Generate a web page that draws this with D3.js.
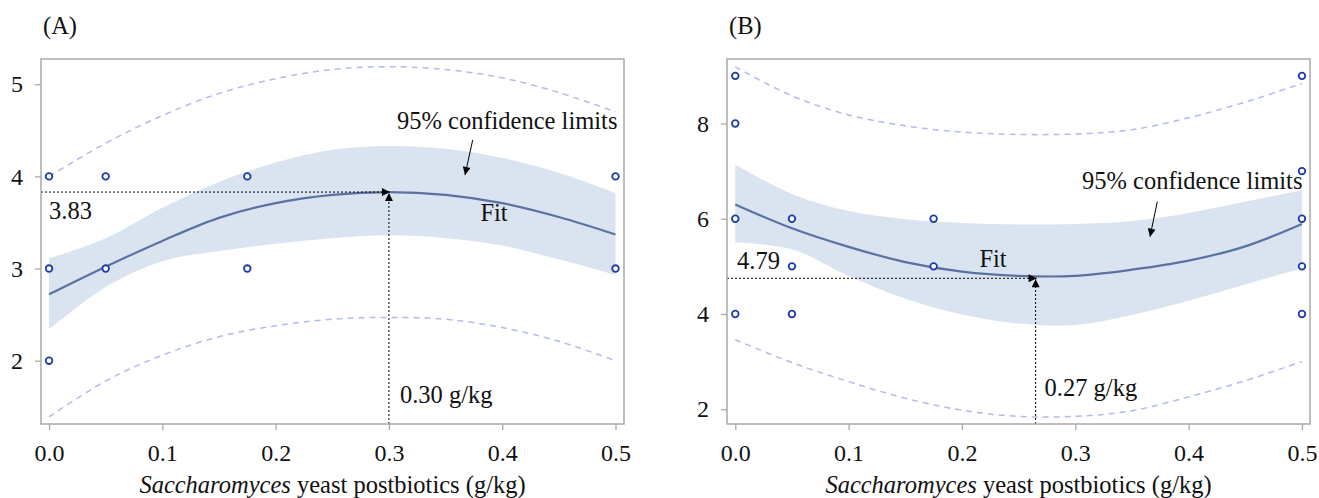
<!DOCTYPE html>
<html>
<head>
<meta charset="utf-8">
<script src="https://cdn.jsdelivr.net/npm/d3@7"></script>
<style>
  html, body { margin: 0; padding: 0; background: #fff; }
  svg text { font-family: 'Liberation Serif', 'DejaVu Serif', serif; }
</style>
</head>
<body>
<svg id="chart" width="1319" height="498"></svg>
<script>
// ---------- data ----------
const gridX = [0, 0.05, 0.1, 0.15, 0.2, 0.25, 0.3, 0.35, 0.4, 0.45, 0.5];

// Panel A
const ptsAx = [0, 0, 0, 0.05, 0.05, 0.175, 0.175, 0.5, 0.5];
const ptsAy = [4, 3, 2, 4, 3, 4, 3, 4, 3];
const fitA   = [2.72, 3.02, 3.30, 3.55, 3.71, 3.80, 3.83, 3.80, 3.71, 3.56, 3.37];
const clUpA  = [3.11, 3.33, 3.66, 3.94, 4.15, 4.29, 4.33, 4.30, 4.20, 4.04, 3.82];
const clLoA  = [2.34, 2.80, 3.08, 3.19, 3.27, 3.33, 3.36, 3.33, 3.25, 3.10, 2.93];
const plUpA  = [4.00, 4.36, 4.66, 4.90, 5.06, 5.16, 5.19, 5.16, 5.07, 4.91, 4.70];
const plLoA  = [1.39, 1.78, 2.06, 2.26, 2.38, 2.45, 2.47, 2.45, 2.36, 2.21, 2.00];
const yTicksA = [2, 3, 4, 5];

// Panel B
const ptsBx = [0, 0, 0, 0, 0.05, 0.05, 0.05, 0.175, 0.175, 0.5, 0.5, 0.5, 0.5, 0.5];
const ptsBy = [9, 8, 6, 4, 6, 5, 4, 6, 5, 9, 7, 6, 5, 4];
const fitB   = [6.30, 5.80, 5.41, 5.09, 4.89, 4.80, 4.80, 4.93, 5.12, 5.42, 5.89];
const clUpB  = [7.14, 6.52, 6.16, 5.99, 5.91, 5.88, 5.89, 5.95, 6.12, 6.36, 6.60];
const clLoB  = [5.50, 5.36, 4.80, 4.32, 3.99, 3.80, 3.77, 3.98, 4.28, 4.62, 4.96];
const plUpB  = [9.19, 8.58, 8.18, 7.95, 7.82, 7.77, 7.78, 7.87, 8.12, 8.45, 8.84];
const plLoB  = [3.46, 2.98, 2.58, 2.23, 1.98, 1.85, 1.85, 1.97, 2.26, 2.60, 3.00];
const yTicksB = [2, 4, 6, 8];

const xTicks = [0, 0.1, 0.2, 0.3, 0.4, 0.5];
const xTickLabels = ["0.0", "0.1", "0.2", "0.3", "0.4", "0.5"];

const panelLabels = ["(A)", "(B)"];
const optX = [0.30, 0.265];
const optY = [3.83, 4.75];
const optYLabels = ["3.83", "4.79"];
const optXLabels = ["0.30 g/kg", "0.27 g/kg"];
const ciLabel = "95% confidence limits";
const fitLabel = "Fit";

// ---------- drawing ----------
const svg = d3.select("#chart");
const SERIF = "'Liberation Serif', 'DejaVu Serif', serif";
const C = {
  frame: "#a9a9a9", band: "#dae4f1", fit: "#5a72a0", pl: "#b3bbe8",
  pt: "#1f3ca6", text: "#111"
};
const curve = d3.curveCatmullRom.alpha(0.5);

const defs = svg.append("defs");
defs.append("marker").attr("id", "ah")
  .attr("viewBox", "0 0 10 10").attr("refX", 10).attr("refY", 5)
  .attr("markerWidth", 10).attr("markerHeight", 8).attr("markerUnits", "userSpaceOnUse")
  .attr("orient", "auto")
  .append("path").attr("d", "M0,0 L10,5 L0,10 z").attr("fill", "#000");

const panels = [
  { left: 41, right: 624, top: 59, bottom: 424, xDom: [-0.0071, 0.5075], yDom: [1.313, 5.274],
    ptsX: ptsAx, ptsY: ptsAy, fit: fitA, up: clUpA, lo: clLoA, plUp: plUpA, plLo: plLoA, yTicks: yTicksA },
  { left: 727, right: 1310, top: 59, bottom: 424, xDom: [-0.0073, 0.5071], yDom: [1.69, 9.354],
    ptsX: ptsBx, ptsY: ptsBy, fit: fitB, up: clUpB, lo: clLoB, plUp: plUpB, plLo: plLoB, yTicks: yTicksB }
];

// per-panel annotation layout (pixel offsets only)
const annot = [
  { ci: [397, 129], ciArrow: [[472.7, 140], [465, 175]], fit: [494, 221], yLab: [49, 27], xLab: [11, 403] },
  { ci: [1082, 189], ciArrow: [[1157.3, 201.7], [1150, 236.7]], fit: [993, 267], yLab: [737, -9], xLab: [9, 396] }
];

function txt(sel) {
  return sel.attr("fill", C.text).attr("font-family", SERIF).style("font-family", SERIF).style("font-size", "24.5px");
}

panels.forEach((p, i) => {
  const x = d3.scaleLinear().domain(p.xDom).range([p.left, p.right]);
  const y = d3.scaleLinear().domain(p.yDom).range([p.bottom, p.top]);
  const g = svg.append("g");

  const clipId = "clip" + i;
  defs.append("clipPath").attr("id", clipId).append("rect")
    .attr("x", p.left).attr("y", p.top).attr("width", p.right - p.left).attr("height", p.bottom - p.top);
  const inner = g.append("g").attr("clip-path", `url(#${clipId})`);

  const rows = gridX.map((gx, k) => ({ x: gx, fit: p.fit[k], up: p.up[k], lo: p.lo[k], plUp: p.plUp[k], plLo: p.plLo[k] }));

  // confidence band
  inner.append("path").datum(rows)
    .attr("d", d3.area().curve(curve).x(d => x(d.x)).y0(d => y(d.lo)).y1(d => y(d.up)))
    .attr("fill", C.band);

  // prediction limits
  ["plUp", "plLo"].forEach(key => {
    inner.append("path").datum(rows)
      .attr("d", d3.line().curve(curve).x(d => x(d.x)).y(d => y(d[key])))
      .attr("fill", "none").attr("stroke", C.pl).attr("stroke-width", 1.5).attr("stroke-dasharray", "6,5");
  });

  // fit line
  inner.append("path").datum(rows)
    .attr("d", d3.line().curve(curve).x(d => x(d.x)).y(d => y(d.fit)))
    .attr("fill", "none").attr("stroke", C.fit).attr("stroke-width", 2.2);

  // optimum dotted arrows
  const ox = x(optX[i]), oy = y(optY[i]);
  g.append("line").attr("x1", p.left).attr("x2", ox + 1).attr("y1", oy).attr("y2", oy)
    .attr("stroke", "#000").attr("stroke-width", 1).attr("stroke-dasharray", "2,2")
    .attr("marker-end", "url(#ah)");
  g.append("line").attr("x1", ox).attr("x2", ox).attr("y1", p.bottom).attr("y2", oy + 1)
    .attr("stroke", "#000").attr("stroke-width", 1).attr("stroke-dasharray", "2,2")
    .attr("marker-end", "url(#ah)");

  // data points
  g.append("g").selectAll("circle").data(p.ptsX.map((px, k) => [px, p.ptsY[k]]))
    .join("circle")
    .attr("cx", d => x(d[0])).attr("cy", d => y(d[1])).attr("r", 3.3)
    .attr("fill", "#fff").attr("stroke", C.pt).attr("stroke-width", 1.8);

  // frame
  g.append("rect").attr("x", p.left).attr("y", p.top)
    .attr("width", p.right - p.left).attr("height", p.bottom - p.top)
    .attr("fill", "none").attr("stroke", C.frame).attr("stroke-width", 1.5);

  // axes
  const xAxis = d3.axisBottom(x).tickValues(xTicks).tickFormat((d, k) => xTickLabels[k]).tickSize(6).tickPadding(14);
  const gx = g.append("g").attr("transform", `translate(0,${p.bottom})`).call(xAxis);
  const yAxis = d3.axisLeft(y).tickValues(p.yTicks).tickFormat(d3.format("d")).tickSize(6).tickPadding(12);
  const gy = g.append("g").attr("transform", `translate(${p.left},0)`).call(yAxis);
  [gx, gy].forEach(ax => {
    ax.attr("font-family", SERIF).attr("font-size", 24);
    ax.select(".domain").remove();
    ax.selectAll(".tick line").attr("stroke", C.frame).attr("stroke-width", 1.3);
    txt(ax.selectAll(".tick text")).style("font-size", "24px");
  });

  // axis title
  const t = txt(g.append("text").attr("x", (p.left + p.right) / 2).attr("y", 493)
    .attr("text-anchor", "middle"));
  t.append("tspan").attr("font-style", "italic").text("Saccharomyces");
  t.append("tspan").text(" yeast postbiotics (g/kg)");

  // panel label
  txt(g.append("text").attr("x", p.left + 2).attr("y", 34)).text(panelLabels[i]);

  const a = annot[i];
  // 95% CL label + arrow
  txt(g.append("text").attr("x", a.ci[0]).attr("y", a.ci[1])).text(ciLabel);
  g.append("line").attr("x1", a.ciArrow[0][0]).attr("y1", a.ciArrow[0][1])
    .attr("x2", a.ciArrow[1][0]).attr("y2", a.ciArrow[1][1])
    .attr("stroke", "#000").attr("stroke-width", 1).attr("marker-end", "url(#ah)");
  // Fit label
  txt(g.append("text").attr("x", a.fit[0]).attr("y", a.fit[1]).attr("text-anchor", "middle")).text(fitLabel);
  // optimum labels
  txt(g.append("text").attr("x", a.yLab[0]).attr("y", oy + a.yLab[1])).text(optYLabels[i]);
  txt(g.append("text").attr("x", ox + a.xLab[0]).attr("y", a.xLab[1])).text(optXLabels[i]);
});
</script>
</body>
</html>
